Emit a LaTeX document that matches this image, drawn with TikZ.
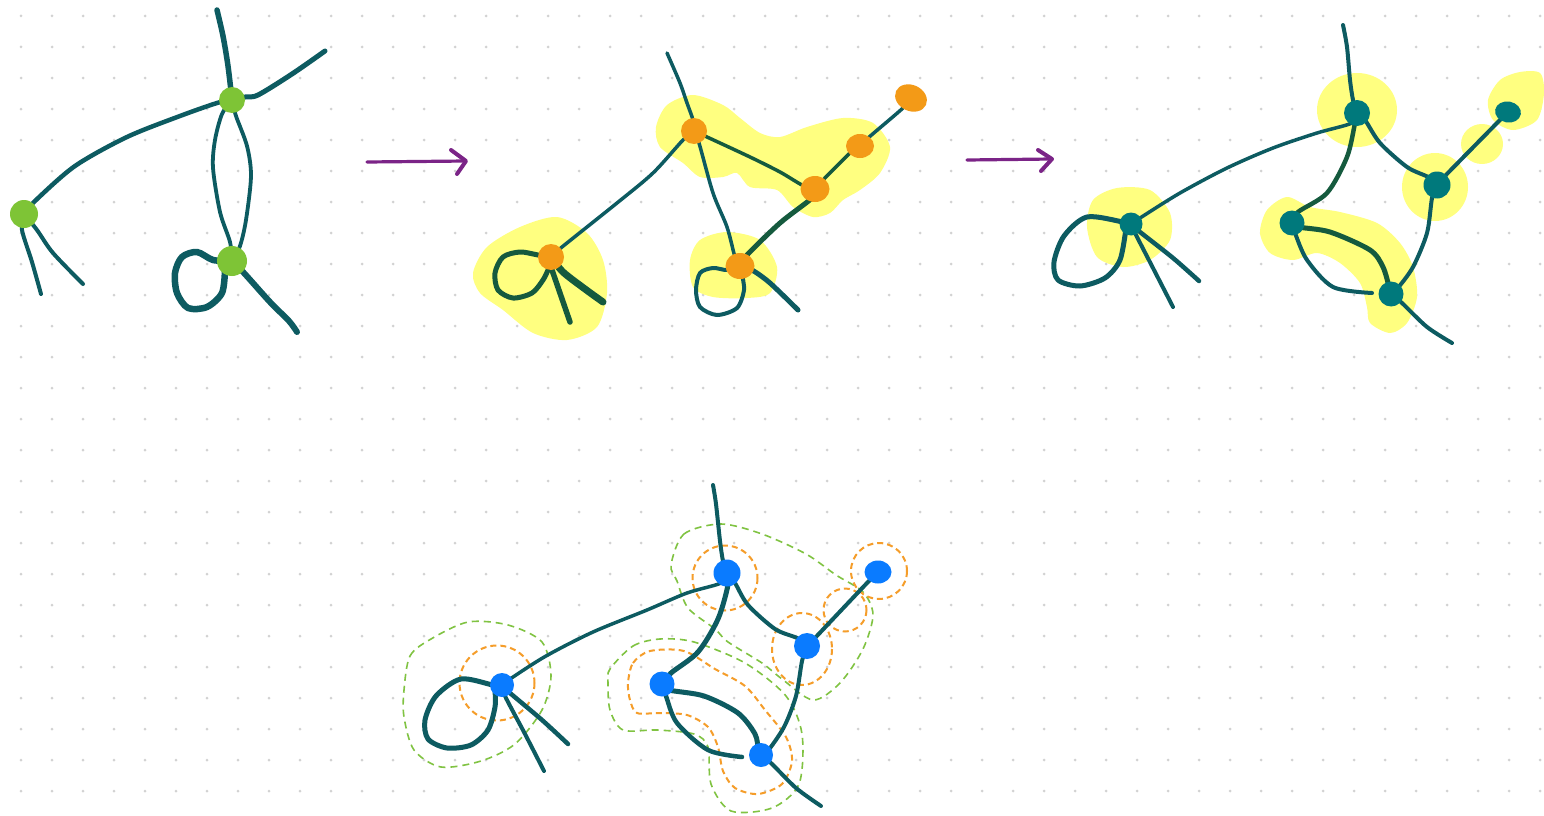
\documentclass[tikz,border=0pt]{standalone}
\usetikzlibrary{arrows.meta,shapes.geometric}
\definecolor{tealline}{HTML}{0D5B61}
\definecolor{greenline}{HTML}{155A3E}
\definecolor{lgreen}{HTML}{7EC436}
\definecolor{orng}{HTML}{F39A17}
\definecolor{tealnode}{HTML}{00797C}
\definecolor{bluenode}{HTML}{0A7BFF}
\definecolor{hilite}{HTML}{FFFF80}
\definecolor{purp}{HTML}{7B2487}
\definecolor{dgreen}{HTML}{80C342}
\definecolor{dorange}{HTML}{F59D2A}
\definecolor{griddot}{HTML}{D2D2D2}
\pgfdeclarelayer{bg}
\pgfdeclarelayer{lines}
\pgfsetlayers{bg,lines,main}
\begin{document}
\begin{tikzpicture}[x=1pt,y=-1pt,
  ln/.style={draw=tealline, line width=#1, line cap=round, line join=round},
  ln/.default=3.5,
  gl/.style={draw=greenline, line width=#1, line cap=round, line join=round},
  gl/.default=4.5,
  nd/.style={circle, inner sep=0pt, minimum size=#1},
  hl/.style={fill=hilite, draw=none},
  odash/.style={draw=dorange, line width=2, dash pattern=on 6pt off 4pt},
  gdash/.style={draw=dgreen, line width=1.6, dash pattern=on 7pt off 5pt},
  arrline/.style={draw=purp, line width=3.2, line cap=round},
  chev/.style={draw=purp, line width=4, line cap=round, line join=round}
]
\useasboundingbox (0,0) rectangle (1544,816);
\begin{pgfonlayer}{bg}
\fill[white] (0,0) rectangle (1544,816);
\foreach \i in {0,...,49}{\foreach \j in {0,...,25}{\fill[griddot] ({21+31*\i},{16+31*\j}) circle (1.5);}}
% panel 2 highlights
\fill[hl] plot[smooth cycle] coordinates {(656,127) (667,105) (693,95) (723,105) (740,118) (760,133) (780,137) (807,127) (843,118) (873,123) (890,147) (880,173) (860,190) (843,200) (830,213) (813,217) (793,207) (777,190) (750,187) (737,173) (723,177) (700,177) (683,163) (660,147)};
\fill[hl] plot[smooth cycle] coordinates {(473,273) (487,247) (520,227) (557,217) (587,233) (603,260) (607,293) (597,327) (567,340) (533,333) (503,310) (480,293)};
\fill[hl] plot[smooth cycle] coordinates {(690,260) (700,240) (727,232) (760,240) (777,267) (770,293) (747,298) (713,297) (693,287)};
% panel 3 highlights
\fill[hl] (1357,110) ellipse (40 and 37);
\fill[hl] (1435,187) ellipse (33 and 34);
\fill[hl] (1482,144) ellipse (21 and 20);
\fill[hl] plot[smooth cycle] coordinates {(1488,100) (1500,80) (1520,72) (1540,73) (1544,93) (1537,120) (1513,130) (1493,120)};
\fill[hl] plot[smooth cycle] coordinates {(1087,227) (1093,200) (1117,188) (1150,190) (1170,213) (1170,240) (1150,260) (1123,267) (1097,257)};
\fill[hl] plot[smooth cycle] coordinates {(1310,207) (1340,212) (1377,223) (1400,243) (1413,267) (1417,297) (1407,323) (1390,333) (1370,323) (1367,307) (1360,283) (1340,263) (1317,253) (1293,260) (1270,253) (1260,233) (1267,210) (1287,197)};
% panel 4 dashed contours
\draw[gdash] plot[smooth cycle] coordinates {(404,690) (410,656) (431,639) (468,622) (508,625) (542,642) (551,676) (542,710) (515,744) (481,761) (441,767) (414,750) (404,717)};
\draw[gdash] plot[smooth cycle] coordinates {(671,565) (684,534) (721,524) (762,534) (806,554) (836,575) (863,592) (873,615) (863,649) (840,683) (813,700) (782,679) (762,663) (728,642) (715,629) (688,608) (677,581)};
\draw[gdash] plot[smooth cycle] coordinates {(610,669) (633,646) (660,639) (694,642) (745,663) (786,696) (802,734) (799,784) (772,808) (731,811) (711,784) (708,747) (694,734) (657,730) (623,730) (610,710) (608,683)};
\draw[odash] (497,683) circle (37.5);
\draw[odash] (725,578) circle (32.5);
\draw[odash] (879,571) circle (28);
\draw[odash] (845,610) circle (21.5);
\draw[odash] (802,649) ellipse (30 and 36);
\draw[odash] plot[smooth cycle] coordinates {(628,683) (633,663) (650,651) (684,651) (715,669) (745,686) (765,710) (786,737) (792,761) (782,784) (758,794) (735,788) (723,771) (718,747) (708,727) (687,715) (660,713) (637,713) (630,700)};
\end{pgfonlayer}

% ---------- nodes ----------
% panel 1
\node[nd=28, fill=lgreen] (A) at (24,214) {};
\node[nd=26, fill=lgreen] (B) at (232,100) {};
\node[nd=30, fill=lgreen] (C) at (232,261) {};
% panel 2
\node[nd=26, fill=orng] (N1) at (694,131) {};
\node[ellipse, inner sep=0pt, minimum width=28, minimum height=24, fill=orng] (N2) at (860,146) {};
\node[ellipse, inner sep=0pt, minimum width=29, minimum height=26, fill=orng] (N3) at (815,189) {};
\node[ellipse, inner sep=0pt, minimum width=33, minimum height=26, rotate=-25, fill=orng] (N4) at (911,98) {};
\node[nd=26, fill=orng] (N5) at (551,257) {};
\node[ellipse, inner sep=0pt, minimum width=29, minimum height=26, fill=orng] (N6) at (740,266) {};
% panel 3
\node[nd=26, fill=tealnode] (M1) at (1357,113) {};
\node[nd=27, fill=tealnode] (M2) at (1437,185) {};
\node[ellipse, inner sep=0pt, minimum width=26, minimum height=21, rotate=-10, fill=tealnode] (M3) at (1508,112) {};
\node[nd=23, fill=tealnode] (M4) at (1131,224) {};
\node[nd=25, fill=tealnode] (M5) at (1292,223) {};
\node[nd=25, fill=tealnode] (M6) at (1391,294) {};
% panel 4
\node[nd=27, fill=bluenode] (P1) at (727,573) {};
\node[ellipse, inner sep=0pt, minimum width=27, minimum height=23, fill=bluenode] (P2) at (878,572) {};
\node[nd=26, fill=bluenode] (P3) at (807,646) {};
\node[nd=25, fill=bluenode] (P4) at (662,684) {};
\node[nd=24, fill=bluenode] (P5) at (761,755) {};
\node[nd=24, fill=bluenode] (P6) at (502,685) {};

% transition arrows
\coordinate (a1s) at (367,162);
\coordinate (a1e) at (466,161);
\coordinate (a2s) at (967,160);
\coordinate (a2e) at (1052,159);
\draw[arrline] (a1s) -- (a1e);
\draw[chev] (a1e) ++(-15,-11) -- (a1e) -- ++(-9,13);
\draw[arrline] (a2s) -- (a2e);
\draw[chev] (a2e) ++(-14,-9) -- (a2e) -- ++(-11,12);

\begin{pgfonlayer}{lines}
% panel 1
\draw[ln=5.5] plot[smooth] coordinates {(217,10) (223,36) (228,66) (B.center)};
\draw[ln=5] plot[smooth] coordinates {(B.center) (245,97) (258,95) (292,74) (325,51)};
\draw[ln=4.5] plot[smooth] coordinates {(A.center) (35,201) (75,166) (127,137) (180,116) (217,103) (B.center)};
\draw[ln=3.8] plot[smooth] coordinates {(B.center) (222,114) (215,140) (213,168) (220,212) (230,242) (C.center)};
\draw[ln=3.8] plot[smooth] coordinates {(B.center) (236,116) (247,146) (251,176) (246,220) (240,246) (C.center)};
\draw[ln=6.5] plot[smooth] coordinates {(C.center) (213,260) (197,252) (182,257) (175,273) (177,293) (188,308) (207,307) (222,293) (225,270)};
\draw[ln=6] plot[smooth] coordinates {(C.center) (244,273) (270,302) (289,321) (297,332)};
\draw[ln=4] plot[smooth] coordinates {(A.center) (22,230) (32,262) (41,294)};
\draw[ln=4] plot[smooth] coordinates {(A.center) (37,230) (53,253) (83,284)};
% panel 2
\draw[ln=3.5] plot[smooth] coordinates {(667,53) (680,83) (687,103) (693,120) (N1.center)};
\draw[ln=3.5] plot[smooth] coordinates {(N1.center) (683,140) (653,173) (617,203) (562,247) (N5.center)};
\draw[gl=3.5] plot[smooth] coordinates {(N1.center) (707,137) (750,157) (780,172) (802,185) (N3.center)};
\draw[ln=3.5] plot[smooth] coordinates {(N1.center) (699,143) (713,193) (727,227) (735,257) (N6.center)};
\draw[gl=3.5] plot[smooth] coordinates {(N3.center) (823,180) (850,153) (N2.center)};
\draw[ln=3.5] plot[smooth] coordinates {(N2.center) (868,138) (903,108) (N4.center)};
\draw[gl=5] plot[smooth] coordinates {(N3.center) (812,198) (780,223) (747,255) (N6.center)};
\draw[gl=5] plot[smooth] coordinates {(N5.center) (538,255) (520,252) (503,257) (495,273) (498,290) (513,298) (532,293) (543,280) (548,270)};
\draw[gl=5.5] plot[smooth] coordinates {(552,270) (561,296) (570,322)};
\draw[gl=7] plot[smooth] coordinates {(N5.center) (563,272) (585,289) (603,302)};
\draw[ln=4] plot[smooth] coordinates {(N6.center) (727,270) (713,268) (700,273) (696,290) (700,307) (717,315) (737,308) (744,290) (742,275)};
\draw[ln=5] plot[smooth] coordinates {(N6.center) (752,270) (770,283) (798,310)};
% panel 3
\draw[ln=4] plot[smooth] coordinates {(1343,25) (1347,47) (1350,80) (1353,100) (M1.center)};
\draw[ln=3.5] plot[smooth] coordinates {(M1.center) (1352,123) (1317,133) (1273,148) (1227,168) (1180,193) (1140,218) (M4.center)};
\draw[gl=4.5] plot[smooth] coordinates {(M1.center) (1355,123) (1347,157) (1327,193) (1298,212) (M5.center)};
\draw[ln=4] plot[smooth] coordinates {(M1.center) (1365,120) (1380,143) (1407,167) (1428,177) (M2.center)};
\draw[ln=4] plot[smooth] coordinates {(M2.center) (1443,178) (1497,123) (M3.center)};
\draw[ln=4] plot[smooth] coordinates {(M2.center) (1432,198) (1427,233) (1413,267) (1397,289) (M6.center)};
\draw[gl=5] plot[smooth] coordinates {(M5.center) (1298,227) (1330,232) (1370,250) (1383,267) (1389,287)};
\draw[ln=4] plot[smooth] coordinates {(M5.center) (1295,233) (1307,260) (1333,287) (1372,293)};
\draw[ln=4] plot[smooth] coordinates {(M6.center) (1402,303) (1427,327) (1452,343)};
\draw[ln=5] plot[smooth] coordinates {(M4.center) (1123,222) (1087,217) (1064,236) (1054,262) (1058,280) (1080,286) (1105,278) (1120,260) (1126,228)};
\draw[ln=4] plot[smooth] coordinates {(M4.center) (1135,233) (1154,270) (1173,307)};
\draw[ln=4.5] plot[smooth] coordinates {(M4.center) (1140,232) (1173,258) (1199,281)};
% panel 4
\draw[ln=4] plot[smooth] coordinates {(713,485) (716,504) (720,541) (723,561) (P1.center)};
\draw[ln=3.5] plot[smooth] coordinates {(P1.center) (721,583) (687,593) (647,610) (593,632) (546,656) (510,679) (P6.center)};
\draw[ln=5] plot[smooth] coordinates {(P1.center) (728,585) (718,619) (698,652) (671,673) (P4.center)};
\draw[ln=4] plot[smooth] coordinates {(P1.center) (735,583) (748,605) (775,629) (797,638) (P3.center)};
\draw[ln=4] plot[smooth] coordinates {(P3.center) (814,639) (867,583) (P2.center)};
\draw[ln=4] plot[smooth] coordinates {(P3.center) (802,661) (796,696) (784,727) (767,752) (P5.center)};
\draw[ln=5] plot[smooth] coordinates {(P4.center) (669,690) (704,696) (738,713) (755,734) (758,749)};
\draw[ln=4.5] plot[smooth] coordinates {(P4.center) (666,696) (677,723) (708,750) (742,757)};
\draw[ln=4] plot[smooth] coordinates {(P5.center) (772,764) (796,788) (821,806)};
\draw[ln=5] plot[smooth] coordinates {(P6.center) (493,685) (461,679) (436,696) (425,720) (428,739) (447,748) (471,745) (488,730) (495,707) (495,691)};
\draw[ln=4] plot[smooth] coordinates {(P6.center) (505,696) (525,734) (544,771)};
\draw[ln=4.5] plot[smooth] coordinates {(P6.center) (510,693) (542,720) (568,744)};
\end{pgfonlayer}
\end{tikzpicture}
\end{document}
